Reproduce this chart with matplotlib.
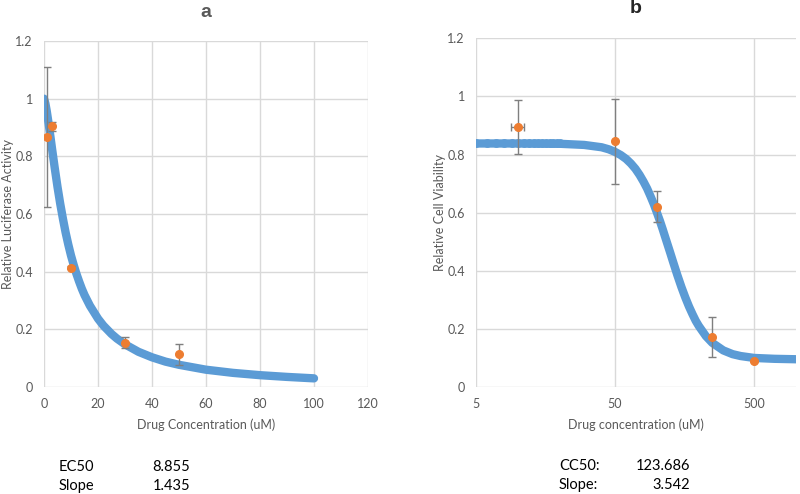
import matplotlib.pyplot as plt
from matplotlib.ticker import FixedLocator, NullLocator, FormatStrFormatter

# ---- panel a: luciferase activity ----
a_curve_x = [0, 0.5, 1, 1.5, 2, 2.5, 3, 4, 5, 6, 7, 8, 9, 10, 11, 12, 13, 14, 15, 17, 20,
             22, 25, 27, 30, 35, 40, 45, 50, 60, 70, 80, 90, 100]
a_curve_y = [1.0, 0.984, 0.958, 0.927, 0.894, 0.860, 0.825, 0.758, 0.694, 0.636, 0.584,
             0.536, 0.494, 0.456, 0.423, 0.393, 0.366, 0.341, 0.319, 0.282, 0.237, 0.213,
             0.184, 0.168, 0.148, 0.122, 0.103, 0.088, 0.077, 0.060, 0.049, 0.041, 0.035,
             0.030]
a_pts_x = [1, 3, 10, 30, 50]
a_pts_y = [0.867, 0.904, 0.414, 0.154, 0.113]
a_pts_err = [0.242, 0.016, 0.006, 0.018, 0.035]
a_stats = [('EC50', '8.855'), ('Slope', '1.435')]

# ---- panel b: cell viability ----
b_dots_x = [5, 6, 7, 8, 9, 10, 11, 12, 13, 14, 15, 16, 17, 18, 19, 20]
b_dots_y = [0.838] * 16
b_curve_x = [5, 10, 20, 30, 40, 45, 50, 55, 60, 65, 70, 75, 80, 85, 90, 95, 100, 105, 110,
             115, 125, 130, 140, 150, 160, 170, 180, 190, 200, 225, 250, 300, 350, 400,
             500, 700, 1000]
b_curve_y = [0.838, 0.838, 0.837, 0.833, 0.825, 0.818, 0.809, 0.798, 0.785, 0.769, 0.751,
             0.730, 0.707, 0.683, 0.656, 0.629, 0.600, 0.572, 0.543, 0.514, 0.460, 0.434,
             0.386, 0.344, 0.308, 0.277, 0.251, 0.228, 0.210, 0.175, 0.152, 0.126, 0.113,
             0.1065, 0.100, 0.097, 0.0955]
b_pts_x = [10, 50, 100, 250, 500]
b_pts_y = [0.895, 0.845, 0.620, 0.172, 0.0895]
b_pts_err = [0.093, 0.145, 0.053, 0.070, 0.004]
b_pts_xerr = [1.1, 0, 0, 0, 0]
b_stats = [('CC50:', '123.686'), ('Slope:', '3.542')]

BLUE = '#5b9bd5'
ORANGE = '#ed7d31'
GRID = '#d9d9d9'
TXT = '#595959'
plt.rcParams['font.family'] = ['Lato', 'DejaVu Sans']

fig = plt.figure(figsize=(8, 4.94), dpi=100)
ax1 = fig.add_axes([0.055, 0.2166, 0.405, 0.7004])
ax2 = fig.add_axes([0.595, 0.2166, 0.40, 0.7059])


def style(ax):
    for s in ax.spines.values():
        s.set_visible(False)
    ax.grid(True, color=GRID, lw=1)
    ax.set_axisbelow(True)
    ax.tick_params(length=0, labelsize=9, labelcolor=TXT, pad=8)
    ax.set_ylim(0, 1.2)
    ax.yaxis.set_major_locator(FixedLocator([0, 0.2, 0.4, 0.6, 0.8, 1.0, 1.2]))
    ax.yaxis.set_major_formatter(FormatStrFormatter('%g'))


# panel a
style(ax1)
ax1.set_xlim(0, 120)
ax1.xaxis.set_major_locator(FixedLocator(range(0, 121, 20)))
ax1.plot(a_curve_x, a_curve_y, color=BLUE, lw=6, solid_capstyle='round',
         solid_joinstyle='round', zorder=2)
ax1.errorbar(a_pts_x, a_pts_y, yerr=a_pts_err, fmt='o', color=ORANGE, ms=5.5,
             ecolor='#7f7f7f', elinewidth=1, capsize=3, capthick=1, zorder=3)
ax1.set_xlabel('Drug Concentration (uM)', fontsize=9, color=TXT, labelpad=6)
ax1.set_ylabel('Relative Luciferase Activity', fontsize=9, color=TXT)
ax1.yaxis.set_label_coords(-0.093, 0.5)
ax1.set_title('a', fontsize=14, fontweight='bold', color=TXT,
              family='Liberation Sans', pad=17)

# panel b
style(ax2)
ax2.set_xscale('log')
ax2.set_xlim(5, 1000)
ax2.xaxis.set_major_locator(FixedLocator([5, 50, 500]))
ax2.xaxis.set_minor_locator(NullLocator())
ax2.xaxis.set_major_formatter(FormatStrFormatter('%g'))
ax2.plot(b_curve_x, b_curve_y, color=BLUE, lw=6, solid_capstyle='round',
         solid_joinstyle='round', zorder=2)
ax2.scatter(b_dots_x, b_dots_y, s=40, color=BLUE, lw=0, zorder=2)
ax2.errorbar(b_pts_x, b_pts_y, yerr=b_pts_err, xerr=b_pts_xerr, fmt='o', color=ORANGE,
             ms=5.5, ecolor='#7f7f7f', elinewidth=1, capsize=3, capthick=1, zorder=3)
ax2.set_xlabel('Drug concentration (uM)', fontsize=9, color=TXT, labelpad=6)
ax2.set_ylabel('Relative Cell Viability', fontsize=9, color=TXT)
ax2.yaxis.set_label_coords(-0.095, 0.5)
ax2.set_title('b', fontsize=14, fontweight='bold', color='#262626',
              family='Liberation Sans', pad=18)

# fit parameters below the panels
for i, (k, v) in enumerate(a_stats):
    y = 1 - (467 + 19 * i) / 494
    fig.text(59 / 800, y, k, fontsize=10.5, va='center', ha='left')
    fig.text(190 / 800, y, v, fontsize=10.5, va='center', ha='right')
for i, (k, v) in enumerate(b_stats):
    y = 1 - (466 + 19 * i) / 494
    fig.text(559 / 800, y, k, fontsize=10.5, va='center', ha='left')
    fig.text(690 / 800, y, v, fontsize=10.5, va='center', ha='right')

fig.savefig('out.png', dpi=100)
